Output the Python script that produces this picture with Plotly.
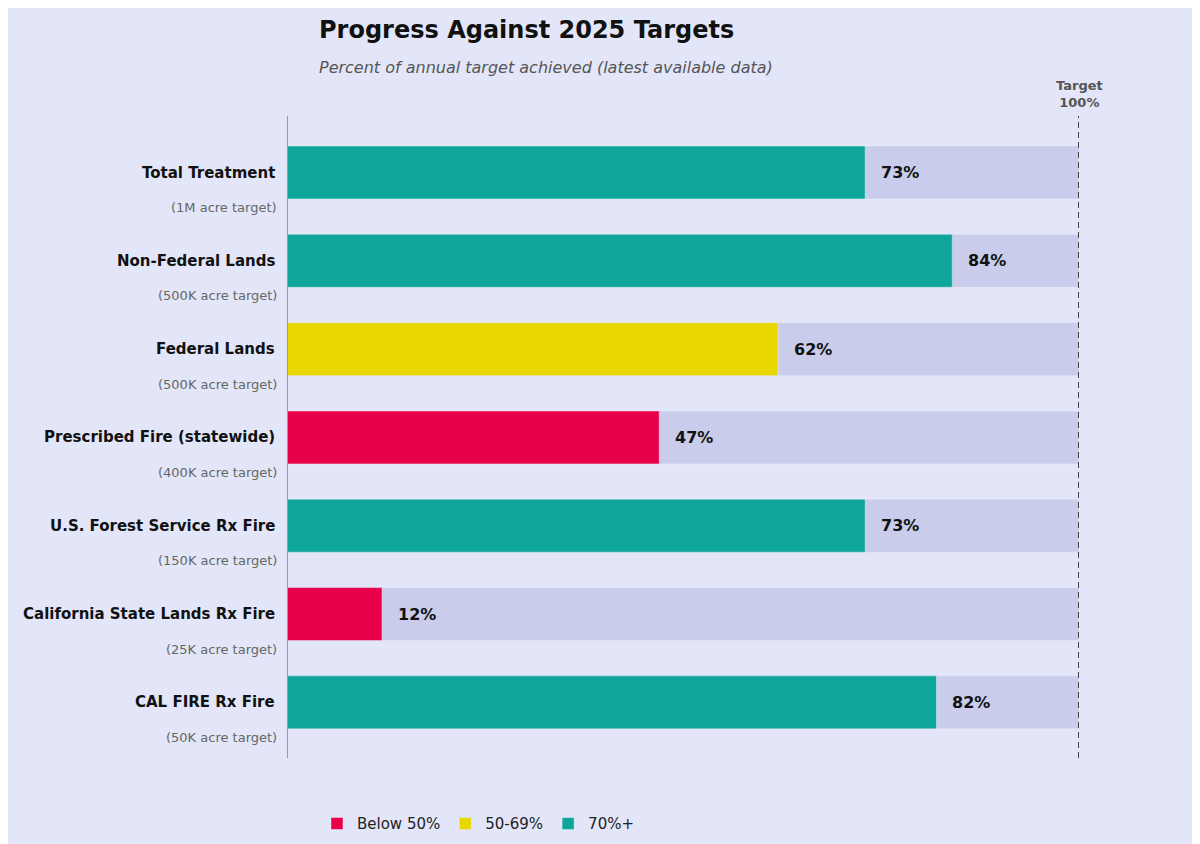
import plotly.graph_objects as go

names = ["Total Treatment", "Non-Federal Lands", "Federal Lands", "Prescribed Fire (statewide)",
         "U.S. Forest Service Rx Fire", "California State Lands Rx Fire", "CAL FIRE Rx Fire"]
targets = ["(1M acre target)", "(500K acre target)", "(500K acre target)", "(400K acre target)",
           "(150K acre target)", "(25K acre target)", "(50K acre target)"]
pct = [73, 84, 62, 47, 73, 12, 82]

RED, YEL, TEAL, GREY = "#E8004A", "#E8D800", "#0EA59A", "#C9CCEA"
def col(p):
    return RED if p < 50 else (YEL if p < 70 else TEAL)

L, R, T, B = 279, 129, 108, 92
PW, PH = 1200 - L - R, 844 - T - B
def px(x): return (x - L) / PW
def py(y): return (844 - B - y) / PH

ys = list(range(len(names)))
fig = go.Figure()
fig.add_trace(go.Bar(x=[100]*len(names), y=ys, orientation="h", marker_color=GREY,
                     width=0.6, showlegend=False, hoverinfo="skip"))
fig.add_trace(go.Bar(x=pct, y=ys, orientation="h", marker_color=[col(p) for p in pct],
                     width=0.6, showlegend=False))
for lab, c in [("Below 50%", RED), ("50-69%", YEL), ("70%+", TEAL)]:
    fig.add_trace(go.Bar(x=[None], y=[None], orientation="h", marker_color=c, name=lab))

ann = []
for i, (n, t, p) in enumerate(zip(names, targets, pct)):
    ann.append(dict(x=0, y=i, xref="x", yref="y", text=f"<b>{n}</b>", showarrow=False,
                    xanchor="right", xshift=-10, font=dict(size=15, color="#111")))
    ann.append(dict(x=0, y=i, xref="x", yref="y", text=t, showarrow=False,
                    xanchor="right", xshift=-8, yshift=-35, font=dict(size=13, color="#666")))
    ann.append(dict(x=p, y=i, xref="x", yref="y", text=f"<b>{p}%</b>", showarrow=False,
                    xanchor="left", xshift=14, font=dict(size=16, color="#111")))
ann.append(dict(x=100, y=1, xref="x", yref="paper", yanchor="bottom", yshift=4,
                text="<b>Target<br>100%</b>", showarrow=False, font=dict(size=13, color="#555")))
ann.append(dict(x=px(309), y=py(22), xref="paper", yref="paper", xanchor="left", yanchor="middle",
                text="<b>Progress Against 2025 Targets</b>", showarrow=False,
                font=dict(size=24, color="#111")))
ann.append(dict(x=px(309), y=py(59), xref="paper", yref="paper", xanchor="left", yanchor="middle",
                text="<i>Percent of annual target achieved (latest available data)</i>", showarrow=False,
                font=dict(size=16, color="#555")))

fig.update_layout(
    width=1200, height=844, barmode="overlay",
    paper_bgcolor="#E3E6F8", plot_bgcolor="#E3E6F8",
    font=dict(family="DejaVu Sans"),
    margin=dict(l=L, r=R, t=T, b=B),
    xaxis=dict(range=[0, 100], visible=False),
    yaxis=dict(range=[6.63, -0.64], visible=False),
    annotations=ann,
    shapes=[dict(type="line", x0=100, x1=100, xref="x", y0=0, y1=1, yref="paper",
                 line=dict(color="#444", width=2, dash="6px,4px")),
            dict(type="line", x0=0, x1=0, xref="x", y0=0, y1=1, yref="paper",
                 line=dict(color="#999", width=2))],
    legend=dict(orientation="h", x=px(309), y=py(818),
                xanchor="left", yanchor="middle", font=dict(size=15, color="#222"),
                bgcolor="rgba(0,0,0,0)"),
)
fig.write_html("out.html")
